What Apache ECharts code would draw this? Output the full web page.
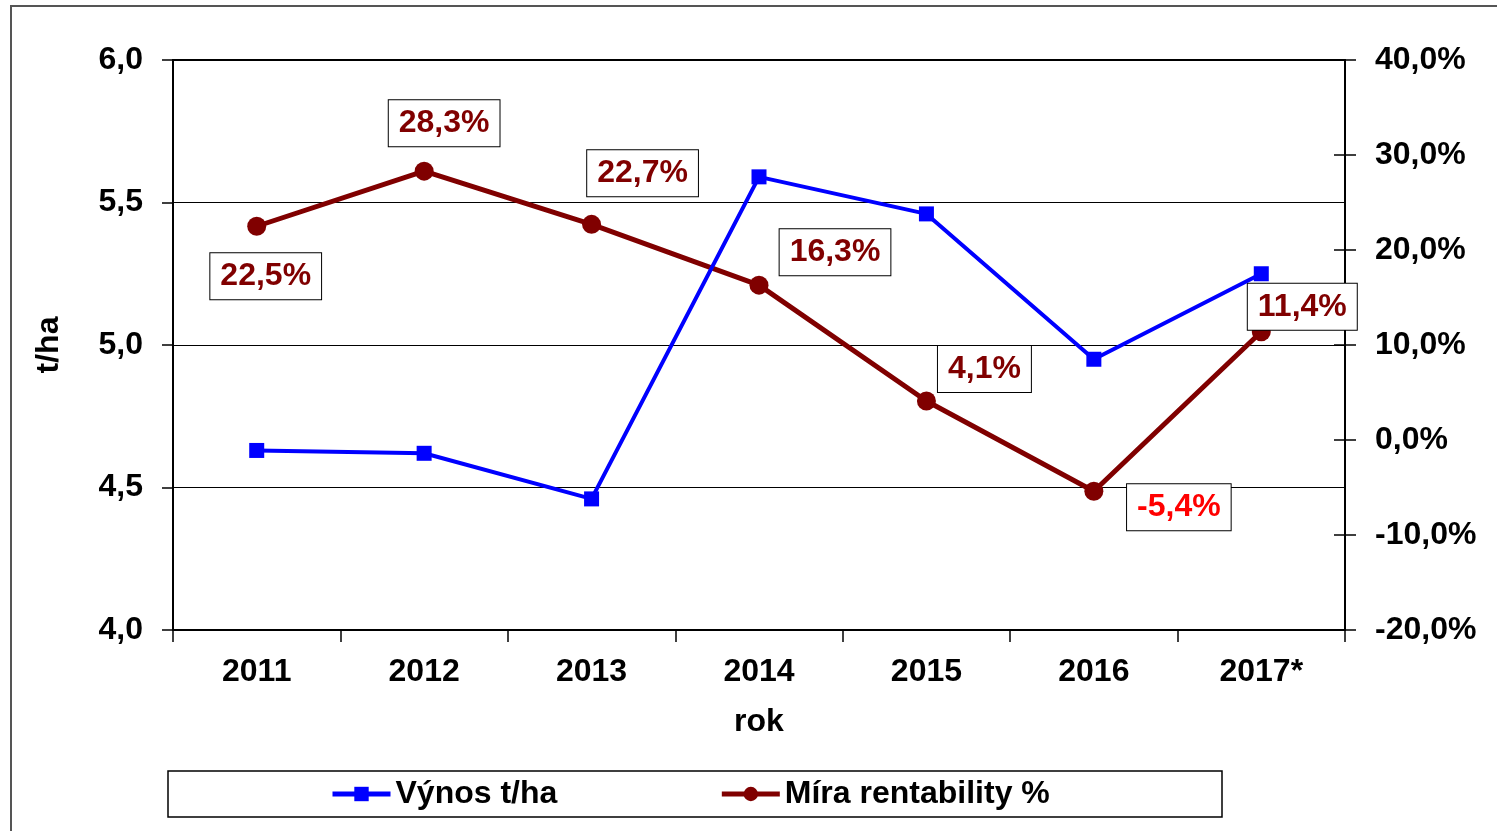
<!DOCTYPE html>
<html lang="cs">
<head>
    <meta charset="UTF-8">
    <title>Výnos a rentabilita</title>
    <style>
        html, body { margin: 0; padding: 0; background: #fff; }
        .container { width: 1497px; height: 831px; }
    </style>
    <script src="https://cdn.jsdelivr.net/npm/echarts@6/dist/echarts.min.js"></script>
</head>
<body>
    <div class="container"></div>
    <script>
        // data
        var roky = ['2011', '2012', '2013', '2014', '2015', '2016', '2017*'];
        var vynos = [4.63, 4.62, 4.46, 5.59, 5.46, 4.95, 5.25];
        var rentabilita = [22.5, 28.3, 22.7, 16.3, 4.1, -5.4, 11.4];

        // posuny popisku (px) - jen rozlozeni
        var labelOffsets = [[9, 50], [20, -48], [51, -51], [76, -33], [58, -32], [85, 16], [41, -25]];

        var font = 'Liberation Sans, Arial, sans-serif';
        var fmt1 = function (v) { return v.toFixed(1).replace('.', ','); };

        var rentData = rentabilita.map(function (v, i) {
            return {
                value: v,
                label: {
                    offset: labelOffsets[i],
                    color: v < 0 ? '#ff0000' : '#800000'
                }
            };
        });

        var main = document.getElementsByClassName('container')[0];
        var myChart = echarts.init(main);
        myChart.setOption({
            backgroundColor: '#fff',
            animation: false,
            textStyle: { fontFamily: font },
            grid: {
                left: 173, right: 152, top: 60, bottom: 201,
                show: true, borderColor: '#000', borderWidth: 2
            },
            graphic: [
                { type: 'rect', shape: { x: 11, y: 6, width: 1500, height: 840 },
                  style: { fill: 'none', stroke: '#555', lineWidth: 2 }, z: -1 },
                { type: 'rect', shape: { x: 168, y: 771, width: 1054, height: 46 },
                  style: { fill: '#fff', stroke: '#000', lineWidth: 1.5 }, z: -1 }
            ],
            legend: {
                left: 330, top: 778, padding: 0,
                itemWidth: 58, itemHeight: 18, itemGap: 162,
                lineStyle: { width: 5 },
                textStyle: { fontSize: 32, fontWeight: 'bold', color: '#000', fontFamily: font },
                data: ['Výnos t/ha', 'Míra rentability %']
            },
            xAxis: {
                type: 'category',
                data: roky,
                name: 'rok',
                nameLocation: 'middle',
                nameGap: 76,
                nameTextStyle: { fontSize: 32, fontWeight: 'bold', color: '#000' },
                axisLine: { onZero: false, lineStyle: { color: '#000', width: 2 } },
                axisTick: { show: true, length: 12, lineStyle: { color: '#000', width: 1.5 } },
                axisLabel: { fontSize: 32, fontWeight: 'bold', color: '#000', margin: 26 }
            },
            yAxis: [
                {
                    type: 'value', min: 4, max: 6, interval: 0.5,
                    name: 't/ha', nameLocation: 'middle', nameGap: 108,
                    nameTextStyle: { fontSize: 32, fontWeight: 'bold', color: '#000' },
                    axisLine: { show: true, lineStyle: { color: '#000', width: 2 } },
                    axisTick: { show: true, length: 11, lineStyle: { color: '#000', width: 1.5 } },
                    axisLabel: { fontSize: 32, fontWeight: 'bold', color: '#000', margin: 30, formatter: fmt1 },
                    splitLine: { show: true, lineStyle: { color: '#000', width: 1 } }
                },
                {
                    type: 'value', min: -20, max: 40, interval: 10, position: 'right',
                    axisLine: { show: true, onZero: false, lineStyle: { color: '#000', width: 2 } },
                    axisTick: { show: false },
                    axisLabel: { fontSize: 32, fontWeight: 'bold', color: '#000', margin: 30,
                        formatter: function (v) { return fmt1(v) + '%'; } },
                    splitLine: { show: false }
                },
                {
                    // krizove carky prave osy
                    type: 'value', min: -20, max: 40, interval: 10, position: 'right', offset: -11,
                    axisLine: { show: false, onZero: false },
                    axisTick: { show: true, length: 22, lineStyle: { color: '#000', width: 1.5 } },
                    axisLabel: { show: false },
                    splitLine: { show: false }
                }
            ],
            series: [
                {
                    name: 'Výnos t/ha',
                    type: 'line',
                    yAxisIndex: 0,
                    data: vynos,
                    symbol: 'rect',
                    symbolSize: 15,
                    lineStyle: { color: '#0000ff', width: 4 },
                    itemStyle: { color: '#0000ff' },
                    z: 3
                },
                {
                    name: 'Míra rentability %',
                    type: 'line',
                    yAxisIndex: 1,
                    data: rentData,
                    symbol: 'circle',
                    symbolSize: 19,
                    lineStyle: { color: '#800000', width: 5 },
                    itemStyle: { color: '#800000' },
                    z: 2,
                    label: {
                        show: true,
                        position: 'inside',
                        fontSize: 32,
                        fontWeight: 'bold',
                        fontFamily: font,
                        backgroundColor: '#fff',
                        borderColor: '#000',
                        borderWidth: 1,
                        padding: [8, 10, 6, 10],
                        formatter: function (p) { return fmt1(p.value) + '%'; }
                    }
                }
            ]
        });
    </script>
</body>
</html>
